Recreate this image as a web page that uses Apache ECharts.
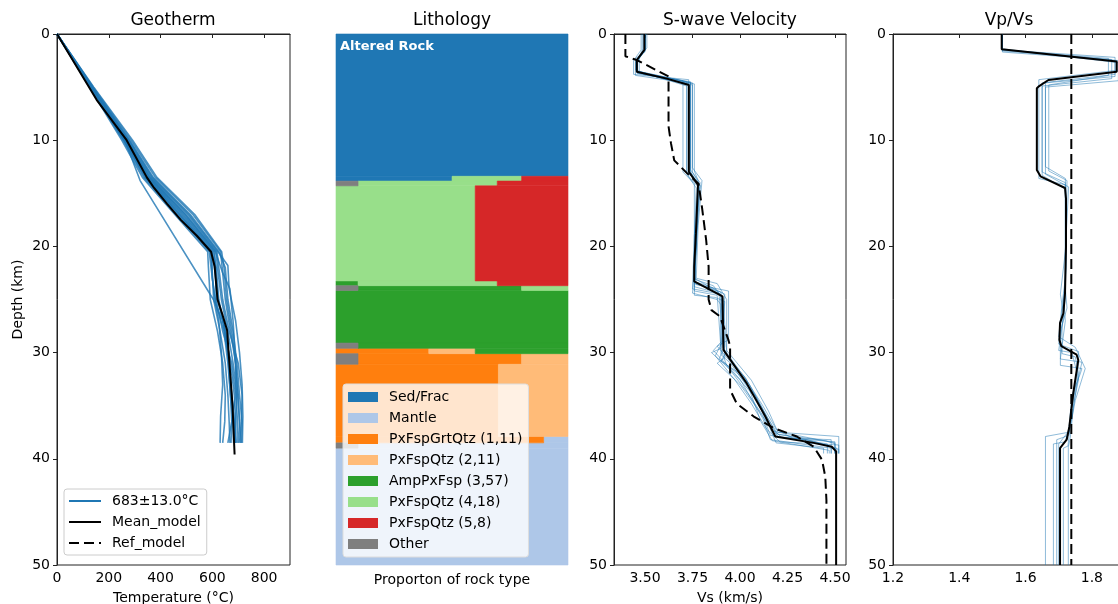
<!DOCTYPE html>
<html><head><meta charset="utf-8">
<script src="https://cdn.jsdelivr.net/npm/echarts@6/dist/echarts.min.js"></script>
<style>html,body{margin:0;padding:0;background:#fff}#c{width:1118px;height:604px}</style>
</head><body><div id="c"></div><script>
// ---------- DATA ----------
const depthTicks = [0, 10, 20, 30, 40, 50];
const tempTicks = [0, 200, 400, 600, 800];
const vsTicks = [3.5, 3.75, 4.0, 4.25, 4.5];
const vpvsTicks = [1.2, 1.4, 1.6, 1.8];

// Geotherm: [temperature °C, depth km]
const geoMean = [[0,0],[153,6.2],[269,10],[347,13.5],[375,14.5],[425,16],[478,17.5],[540,19],[595,20.5],[609,21.9],[620,25],[640,26.5],[657,27.9],[663,30],[678,35],[686,39.6]];
const geoMembers = [
  [[0,0],[125,5],[250,10],[330,13.5],[455,17],[582,20.5],[585,22],[592,25],[620,28],[640,31],[650,34],[648,36.5],[640,38.5]],
  [[0,0],[128,5],[258,10],[340,13.5],[468,17],[592,20.5],[598,21.5],[605,25],[630,28],[650,31],[660,34],[665,36.5],[668,38.5]],
  [[0,0],[130,5],[262,10],[346,13.5],[475,17],[598,20.5],[612,22],[622,25],[650,28],[665,31],[675,34],[685,36.5],[690,38.5]],
  [[0,0],[132,5],[266,10],[352,13.5],[485,17],[605,20.5],[615,22],[625,25],[650,28],[670,31],[685,34],[690,36.5],[688,38.5]],
  [[0,0],[134,5],[270,10],[358,13.5],[495,17],[612,20.5],[640,22.5],[650,25],[670,28],[690,31],[700,34],[705,36.5],[700,38.5]],
  [[0,0],[136,5],[275,10],[365,13.5],[505,17],[618,20.5],[625,22],[640,25],[665,28],[700,31],[715,34],[712,36.5],[705,38.5]],
  [[0,0],[138,5],[280,10],[372,13.5],[515,17],[625,20.5],[650,22],[660,25],[680,28],[695,31],[705,34],[715,36.5],[712,38.5]],
  [[0,0],[140,5],[286,10],[380,13.5],[525,17],[632,20.5],[640,22.5],[668,24],[680,27],[688,30],[692,34],[697,36.5],[695,38.5]],
  [[0,0],[142,5],[292,10],[386,13.5],[532,17],[636,20.5],[645,22],[655,25],[675,28],[690,31],[698,34],[705,36.5],[710,38.5]],
  [[0,0],[129,5],[260,10],[343,13.5],[472,17],[596,20.5],[600,23],[615,25.5],[645,28],[660,31],[670,34],[680,36.5],[682,38.5]],
  [[0,0],[127,5],[255,10],[336,13.5],[462,17],[588,20.5],[595,22],[610,25],[625,27],[635,30],[640,33],[632,36],[630,38.5]],
  [[0,0],[133,5],[268,10],[355,13.5],[490,17],[608,20.5],[612,22],[615,25],[640,28],[675,31],[690,34],[675,36.5],[660,38.5]],
  [[0,0],[135,5],[272,10],[360,13.5],[498,17],[614,20.5],[620,22],[635,25],[660,28],[680,31],[695,34],[690,36.5],[685,38.5]],
  [[0,0],[131,5],[264,10],[349,13.5],[480,17],[600,20.5],[608,22],[622,25],[650,28],[665,31],[675,34],[685,36.5],[690,38.5]],
  [[0,0],[137,5],[278,10],[368,13.5],[510,17],[622,20.5],[660,21.8],[665,24],[690,27],[705,30],[715,33],[718,36],[716,38.5]],
  [[0,0],[130,5],[262,10],[321,13.8],[604,25],[640,27],[660,30],[670,34],[675,36.5],[672,38.5]]
];

// Lithology: depth rows (km) and proportion of each rock type in each row
const rockNames = ['Sed/Frac','Mantle','PxFspGrtQtz (1,11)','PxFspQtz (2,11)','AmpPxFsp (3,57)','PxFspQtz (4,18)','PxFspQtz (5,8)','Other'];
const rockColors = ['#1f77b4','#aec7e8','#ff7f0e','#ffbb78','#2ca02c','#98df8a','#d62728','#7f7f7f'];
const rowTop    = [0,    13.4, 13.85, 14.3,  23.25, 23.7,  24.15, 29.1, 29.6, 30.1, 31.1, 37.9, 38.5, 39.0];
const rowBottom = [13.4, 13.85,14.3,  23.25, 23.7,  24.15, 29.1,  29.6, 30.1, 31.1, 37.9, 38.5, 39.0, 50];
const fracOther  = [0, 0,   0.095, 0,   0,     0.095, 0, 0.095, 0,   0.095, 0,   0,     0.095, 0];
const fracSed    = [1, 0.5, 0,     0,   0,     0,     0, 0,     0,   0,     0,   0,     0,     0];
const fracP1     = [0, 0,   0,     0,   0,     0,     0, 0,     0.4, 0.705, 0.7, 0.895, 0,     0];
const fracP2     = [0, 0,   0,     0,   0,     0,     0, 0,     0.2, 0.2,   0.3, 0,     0,     0];
const fracP3     = [0, 0,   0,     0,   0.095, 0.705, 1, 0.905, 0.4, 0,     0,   0,     0,     0];
const fracP4     = [0, 0.3, 0.6,   0.6, 0.6,   0.2,   0, 0,     0,   0,     0,   0,     0,     0];
const fracP5     = [0, 0.2, 0.305, 0.4, 0.305, 0,     0, 0,     0,   0,     0,   0,     0,     0];
const fracMantle = [0, 0,   0,     0,   0,     0,     0, 0,     0,   0,     0,   0.105, 0.905, 1];

// S-wave velocity: [Vs km/s, depth km]
const vsMean = [[3.497,0],[3.497,1.5],[3.457,2.45],[3.457,3.55],[3.615,4.2],[3.731,4.8],[3.731,12.97],[3.779,14.2],[3.768,18.8],[3.759,21.9],[3.759,23.3],[3.829,23.95],[3.908,24.7],[3.913,29.75],[4.036,32.9],[4.133,36.0],[4.186,37.9],[4.388,38.5],[4.483,38.86],[4.506,39.3],[4.506,50]];
const vsRef = [[3.397,0],[3.397,2.1],[3.457,2.45],[3.624,4.0],[3.624,8.7],[3.637,10.3],[3.654,11.9],[3.721,13.1],[3.782,14.1],[3.8,16.3],[3.822,19.4],[3.835,21.9],[3.835,25],[3.85,26],[3.895,26.6],[3.939,28.8],[3.948,29.4],[3.948,33.5],[3.983,34.8],[4.071,36.0],[4.176,37.1],[4.299,37.9],[4.388,38.86],[4.432,40.1],[4.449,41.7],[4.455,43.9],[4.455,50]];
const vsMembers = [
  [[3.5,0],[3.5,1.4],[3.46,2.4],[3.46,3.7],[3.74,4.5],[3.74,12.8],[3.79,14],[3.77,19],[3.76,23],[3.84,23.8],[3.92,24.5],[3.91,29.5],[4.05,33],[4.14,36],[4.2,37.7],[4.45,38.3],[4.5,38.6],[4.5,39.5]],
  [[3.49,0],[3.49,1.6],[3.45,2.6],[3.45,3.4],[3.72,4.9],[3.72,13.2],[3.77,14.5],[3.76,19],[3.75,24],[3.9,24.5],[3.9,29],[3.86,29.8],[4.0,32.5],[4.12,36.2],[4.16,38.2],[4.4,38.8],[4.52,39.1],[4.52,39.5]],
  [[3.51,0],[3.51,1.3],[3.47,2.3],[3.47,3.6],[3.75,4.6],[3.75,12.6],[3.8,13.8],[3.78,18],[3.77,23],[3.88,23.5],[3.93,25],[3.93,29.8],[4.06,32.6],[4.15,35.5],[4.2,37.5],[4.52,37.9],[4.52,39.5]],
  [[3.48,0],[3.48,1.5],[3.44,2.5],[3.44,3.8],[3.73,4.3],[3.73,13.4],[3.78,14.4],[3.77,20],[3.75,24.4],[3.88,25],[3.9,25.5],[3.9,30.2],[3.95,31],[4.05,33.5],[4.11,36.5],[4.17,38.3],[4.47,39.2],[4.47,39.5]],
  [[3.5,0],[3.5,1.5],[3.46,2.5],[3.46,3.5],[3.7,4.4],[3.7,13],[3.76,14.1],[3.76,22],[3.77,23.6],[3.94,24.2],[3.94,28.8],[3.88,29.4],[3.98,31.5],[4.09,34.5],[4.16,37],[4.22,38],[4.5,38.4],[4.5,39.5]],
  [[3.5,0],[3.5,1.7],[3.45,2.3],[3.45,3.9],[3.76,4.7],[3.76,12.9],[3.79,14.3],[3.77,18],[3.76,23.1],[3.86,23.7],[3.91,24.9],[3.92,30.5],[3.88,31],[4.0,33],[4.1,35.5],[4.18,37.6],[4.35,38.2],[4.48,38.9],[4.48,39.5]],
  [[3.49,0],[3.49,1.4],[3.46,2.4],[3.46,3.6],[3.73,4.8],[3.73,13.1],[3.78,14.2],[3.76,21],[3.76,24.6],[3.87,24.8],[3.92,25.2],[3.9,29.6],[3.85,30],[3.96,31.8],[4.08,34.2],[4.15,36.8],[4.19,38.5],[4.44,39],[4.44,39.5]],
  [[3.5,0],[3.5,1.5],[3.46,2.5],[3.46,3.7],[3.74,4.6],[3.74,13],[3.78,14.1],[3.77,19.5],[3.76,23.4],[3.85,24],[3.9,24.6],[3.91,29.2],[3.92,30],[4.03,32.4],[4.13,35.8],[4.17,37.4],[4.3,37.8],[4.5,38.5],[4.5,39.5]],
  [[3.5,0],[3.5,1.5],[3.46,2.4],[3.46,3.6],[3.73,4.7],[3.73,13],[3.78,14.2],[3.77,20],[3.76,23.5],[3.9,24.3],[3.92,29.4],[3.89,30.6],[3.99,32],[4.08,34],[4.16,36.6],[4.2,38],[4.48,38.2],[4.48,39.5]],
  [[3.5,0],[3.5,1.5],[3.46,2.5],[3.46,3.6],[3.74,4.6],[3.74,13],[3.78,14.2],[3.77,19],[3.76,23.8],[3.89,24.4],[3.91,28.9],[3.87,30.3],[3.97,32.5],[4.06,34.8],[4.14,37.2],[4.21,38.4],[4.52,38.7],[4.52,39.5]],
  [[3.5,0],[3.5,1.5],[3.46,2.5],[3.46,3.5],[3.72,4.5],[3.72,13],[3.78,14],[3.76,19],[3.76,23.3],[3.86,23.9],[3.91,24.8],[3.93,29.9],[3.9,30.8],[4.02,32.2],[4.12,35],[4.19,37.2],[4.28,38.1],[4.46,38.6],[4.46,39.5]],
  [[3.5,0],[3.5,1.5],[3.46,2.5],[3.46,3.6],[3.75,4.8],[3.75,13],[3.79,14.3],[3.77,20],[3.76,24.2],[3.88,24.6],[3.9,29.7],[3.93,31.2],[4.04,33.8],[4.12,35.9],[4.16,37.8],[4.38,38.3],[4.51,39],[4.51,39.5]]
];

// Vp/Vs: [ratio, depth km]
const vpvsMean = [[1.528,0],[1.528,1.44],[1.875,2.6],[1.875,3.55],[1.669,4.33],[1.641,4.9],[1.634,5.1],[1.634,12.8],[1.645,13.4],[1.719,14.5],[1.722,15.5],[1.722,20],[1.719,24.4],[1.714,26.3],[1.704,27.2],[1.702,28.8],[1.708,29.4],[1.754,30.2],[1.759,30.7],[1.744,33.8],[1.732,37.0],[1.724,38.2],[1.704,39.0],[1.704,50]];
const vpvsRef = [[1.738,0],[1.738,50]];
const vpvsMembers = [
  [[1.53,0],[1.53,1.5],[1.87,2.2],[1.87,4.0],[1.66,4.6],[1.66,12.5],[1.72,13.6],[1.723,20],[1.72,24],[1.71,26],[1.70,29.2],[1.76,29.9],[1.76,31],[1.745,34],[1.73,37.5],[1.66,37.9],[1.66,50]],
  [[1.53,0],[1.53,1.6],[1.86,2.4],[1.86,4.2],[1.65,4.9],[1.65,13],[1.72,14],[1.722,22],[1.715,25],[1.72,27],[1.705,30.6],[1.77,30.9],[1.755,33],[1.74,36],[1.72,38.4],[1.684,38.6],[1.684,50]],
  [[1.53,0],[1.53,1.4],[1.88,2.7],[1.88,3.4],[1.64,4.3],[1.64,13.6],[1.72,14.2],[1.72,23],[1.71,25.5],[1.70,28.5],[1.75,29.5],[1.78,31.5],[1.75,34.5],[1.73,37.8],[1.694,38.2],[1.694,50]],
  [[1.53,0],[1.53,1.5],[1.85,2.3],[1.85,3.9],[1.67,4.8],[1.67,12.9],[1.725,13.8],[1.72,21],[1.72,24.8],[1.71,27.5],[1.71,30.1],[1.75,30.4],[1.76,32],[1.74,35],[1.728,38.8],[1.714,39],[1.714,50]],
  [[1.53,0],[1.53,1.7],[1.88,2.5],[1.88,4.4],[1.66,5.0],[1.66,13.2],[1.73,14.4],[1.72,20.5],[1.705,24.5],[1.715,26.5],[1.70,29.8],[1.74,30],[1.76,32.5],[1.745,34.8],[1.735,38.0],[1.729,38.9],[1.729,50]],
  [[1.53,0],[1.53,1.5],[1.87,2.5],[1.87,3.8],[1.65,4.6],[1.65,13.3],[1.72,14.6],[1.72,24],[1.725,25.8],[1.705,28],[1.705,31.2],[1.77,31.5],[1.765,32],[1.74,34],[1.73,37.4],[1.70,38.6],[1.70,50]]
];

// ---------- CHART ----------
const FONT = 'DejaVu Sans';
const BLUE = '#1f77b4';
const chart = echarts.init(document.getElementById('c'), null, {renderer: 'canvas'});

const grids = [
  {left: 57, top: 34, width: 233, height: 531, show: true, borderColor: '#222', borderWidth: 1, outerBoundsMode: 'none', containLabel: false},
  {left: 336, top: 34, width: 232, height: 531, show: false, outerBoundsMode: 'none', containLabel: false},
  {left: 614, top: 34, width: 232, height: 531, show: true, borderColor: '#222', borderWidth: 1, outerBoundsMode: 'none', containLabel: false},
  {left: 893, top: 34, width: 232, height: 531, show: true, borderColor: '#222', borderWidth: 1, outerBoundsMode: 'none', containLabel: false}
];

function valueX(gi, min, max, ticks, dec, name, nameGap) {
  return {
    type: 'value', gridIndex: gi, min: min, max: max, name: name,
    nameLocation: 'middle', nameGap: nameGap,
    nameTextStyle: {fontFamily: FONT, fontSize: 14, color: '#000'},
    axisLine: {show: true, lineStyle: {color: '#222', width: 1}},
    axisTick: {show: true, length: 4, lineStyle: {color: '#222'}, customValues: ticks},
    axisLabel: {show: true, margin: 6, fontFamily: FONT, fontSize: 14, color: '#000',
      customValues: ticks, formatter: v => Number(v).toFixed(dec)},
    splitLine: {show: false}
  };
}
function depthY(gi, withName) {
  return {
    type: 'value', gridIndex: gi, min: 0, max: 50, interval: 10, inverse: true,
    name: withName ? 'Depth (km)' : '', nameLocation: 'middle', nameGap: 32,
    nameTextStyle: {fontFamily: FONT, fontSize: 14, color: '#000'},
    axisLine: {show: true, lineStyle: {color: '#222', width: 1}},
    axisTick: {show: true, length: 4, lineStyle: {color: '#222'}, customValues: depthTicks},
    axisLabel: {show: true, margin: 7, fontFamily: FONT, fontSize: 14, color: '#000', customValues: depthTicks},
    splitLine: {show: false}
  };
}

// Vp/Vs axis: regular interval ticks from vpvsTicks spacing (min is a multiple of the interval)
const vpvsAxis = {
  type: 'value', gridIndex: 3, min: vpvsTicks[0], max: 1.9, interval: 0.2,
  axisLine: {show: true, lineStyle: {color: '#222', width: 1}},
  axisTick: {show: true, length: 4, lineStyle: {color: '#222'}},
  axisLabel: {show: true, margin: 6, fontFamily: FONT, fontSize: 14, color: '#000',
    showMaxLabel: false, alignMaxLabel: 'center', formatter: v => Number(v).toFixed(1)},
  splitLine: {show: false}
};

const xAxes = [
  valueX(0, 0, 900, tempTicks, 0, 'Temperature (°C)', 26),
  {type: 'value', gridIndex: 1, min: 0, max: 1, name: 'Proporton of rock type', nameLocation: 'middle', nameGap: 8,
   nameTextStyle: {fontFamily: FONT, fontSize: 14, color: '#000'},
   axisLine: {show: false}, axisTick: {show: false}, axisLabel: {show: false}, splitLine: {show: false}},
  valueX(2, 3.337, 4.558, vsTicks, 2, 'Vs (km/s)', 26),
  vpvsAxis
];
const yAxes = [
  depthY(0, true),
  {type: 'value', gridIndex: 1, min: 0, max: 50, inverse: true, show: false, splitLine: {show: false}},
  depthY(2, false),
  depthY(3, false)
];

const series = [];
function addLine(xi, data, name, color, width, opacity, dash, z) {
  series.push({
    type: 'line', name: name, xAxisIndex: xi, yAxisIndex: xi, data: data,
    symbol: 'none', showSymbol: false, silent: true, animation: false, z: z,
    lineStyle: {color: color, width: width, opacity: opacity, type: dash || 'solid'},
    itemStyle: {color: color}
  });
}
geoMembers.forEach(m => addLine(0, m, '683±13.0°C', BLUE, 1.6, 0.8, null, 2));
addLine(0, geoMean, 'Mean_model', '#000', 2, 1, null, 4);

// lithology stacked proportions
const fracs = [fracOther, fracSed, fracP1, fracP2, fracP3, fracP4, fracP5, fracMantle];
const fracRock = [7, 0, 2, 3, 4, 5, 6, 1]; // index into rockNames
const rectData = rockNames.map(() => []);
rowTop.forEach((t, r) => {
  let acc = 0;
  fracs.forEach((f, k) => {
    if (f[r] > 0) {
      rectData[fracRock[k]].push([t, rowBottom[r], acc, Math.min(1, acc + f[r])]);
      acc += f[r];
    }
  });
});
rockNames.forEach((nm, i) => {
  series.push({
    type: 'custom', name: nm, xAxisIndex: 1, yAxisIndex: 1, data: rectData[i],
    encode: {x: [2, 3], y: [0, 1]}, silent: true, animation: false,
    itemStyle: {color: rockColors[i]},
    renderItem: function (params, api) {
      const p0 = api.coord([api.value(2), api.value(0)]);
      const p1 = api.coord([api.value(3), api.value(1)]);
      return {type: 'rect', shape: {x: p0[0], y: p0[1], width: p1[0] - p0[0], height: p1[1] - p0[1]},
        style: {fill: rockColors[i], stroke: rockColors[i], lineWidth: 0.6}};
    }
  });
});

vsMembers.forEach(m => addLine(2, m, 'Vs ensemble', BLUE, 1, 0.5, null, 2));
addLine(2, vsRef, 'Ref_model', '#000', 2, 1, [10, 5], 3);
addLine(2, vsMean, 'Mean_model', '#000', 2, 1, null, 4);

vpvsMembers.forEach(m => addLine(3, m, 'Vp/Vs ensemble', BLUE, 1, 0.5, null, 2));
addLine(3, vpvsRef, 'Ref_model', '#000', 2, 1, [10, 5], 3);
addLine(3, vpvsMean, 'Mean_model', '#000', 2, 1, null, 4);

const titleStyle = {fontFamily: FONT, fontSize: 17, fontWeight: 'normal', color: '#000'};
const option = {
  animation: false,
  backgroundColor: '#fff',
  title: [
    {text: 'Geotherm', left: 173, top: 12, textAlign: 'center', padding: 0, textStyle: titleStyle},
    {text: 'Lithology', left: 452, top: 12, textAlign: 'center', padding: 0, textStyle: titleStyle},
    {text: 'S-wave Velocity', left: 730, top: 12, textAlign: 'center', padding: 0, textStyle: titleStyle},
    {text: 'Vp/Vs', left: 1009, top: 12, textAlign: 'center', padding: 0, textStyle: titleStyle}
  ],
  grid: grids,
  xAxis: xAxes,
  yAxis: yAxes,
  legend: [
    {
      data: ['683±13.0°C', 'Mean_model', 'Ref_model'],
      orient: 'vertical', left: 64, top: 489, padding: [5, 6, 5, 4], itemGap: 7,
      itemWidth: 32, itemHeight: 14, selectedMode: false,
      backgroundColor: 'rgba(255,255,255,0.8)', borderColor: '#ccc', borderWidth: 1, borderRadius: 3,
      lineStyle: {width: 2, opacity: 1},
      itemStyle: {color: 'rgba(0,0,0,0)', borderColor: 'rgba(0,0,0,0)', borderWidth: 0, opacity: 0},
      textStyle: {fontFamily: FONT, fontSize: 14, color: '#000', padding: [0, 0, 0, 6]}
    },
    {
      data: rockNames.map(n => ({name: n, icon: 'rect'})),
      orient: 'vertical', left: 343, top: 384, padding: [6, 6, 6, 5], itemGap: 7,
      itemWidth: 30, itemHeight: 10, selectedMode: false,
      backgroundColor: 'rgba(255,255,255,0.8)', borderColor: '#ddd', borderWidth: 1, borderRadius: 3,
      textStyle: {fontFamily: FONT, fontSize: 14, color: '#000', lineHeight: 14, padding: [0, 0, 0, 6]}
    }
  ],
  graphic: [
    {type: 'text', left: 340, top: 40, z: 10, silent: true,
     style: {text: 'Altered Rock', fill: '#fff', font: 'bold 13px "DejaVu Sans"'}}
  ],
  series: series
};
chart.setOption(option);
</script></body></html>
